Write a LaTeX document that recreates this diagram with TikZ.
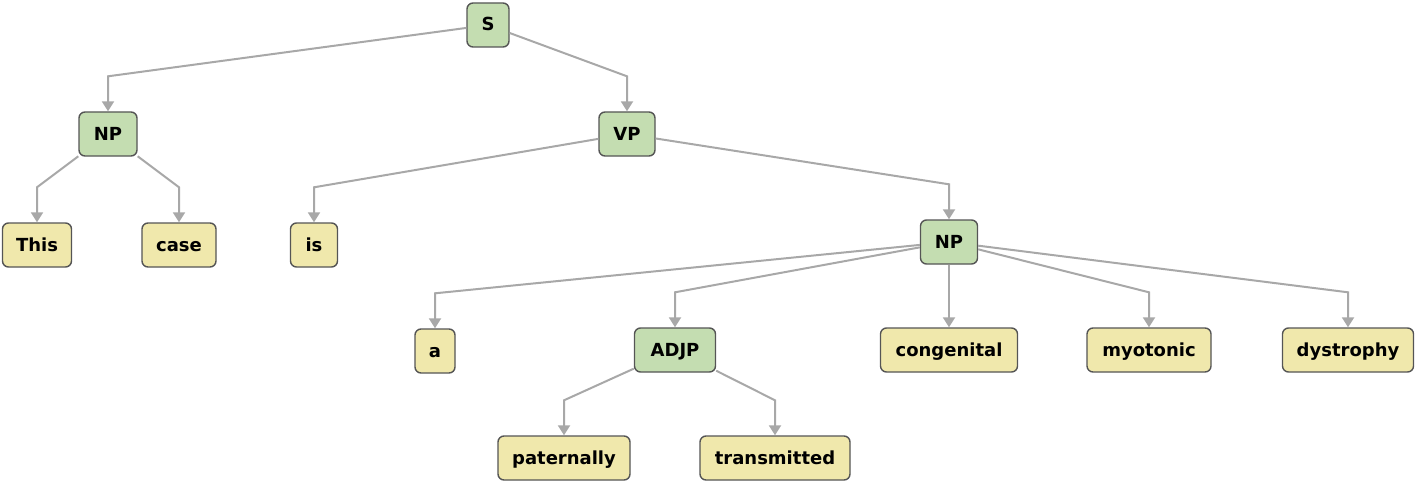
\documentclass[tikz,border=0pt]{standalone}
\usepackage{fontspec}
\setmainfont{DejaVu Sans}
\usetikzlibrary{calc,arrows.meta}
\definecolor{phfill}{HTML}{C4DDB1}
\definecolor{lffill}{HTML}{F0E8AC}
\definecolor{bord}{HTML}{555555}
\definecolor{edgec}{HTML}{A8A8A8}
\tikzset{
  box/.style={draw=bord, line width=1.4pt, rounded corners=6pt, minimum height=44pt,
    inner sep=0pt, text height=13pt, text depth=1pt,
    font=\fontsize{18}{20}\selectfont\bfseries, text=black},
  ph/.style={box, fill=phfill},
  lf/.style={box, fill=lffill},
  edge/.style={draw=edgec, line width=2pt, -{Triangle[length=10pt,width=12pt]}}
}
\newcommand\tedge[2]{\draw[edge] (#1) -- ($(#2.north)+(0pt,35pt)$) -- (#2.north);}
\begin{document}
\begin{tikzpicture}[x=1pt,y=-1pt]
\useasboundingbox (0,0) rectangle (1415,484);
\node[ph,minimum width=42pt] (S) at (488,25) {S};
\node[ph,minimum width=58pt] (NPa) at (108,134) {NP};
\node[ph,minimum width=56pt] (VP) at (627,134) {VP};
\node[lf,minimum width=69pt] (This) at (37,245) {This};
\node[lf,minimum width=74pt] (case) at (179,245) {case};
\node[lf,minimum width=47pt] (is) at (314,245) {is};
\node[ph,minimum width=57pt] (NPb) at (949,242) {NP};
\node[lf,minimum width=40pt] (a) at (435,351) {a};
\node[ph,minimum width=81pt] (ADJP) at (675,350) {ADJP};
\node[lf,minimum width=137pt] (congenital) at (949,350) {congenital};
\node[lf,minimum width=124pt] (myotonic) at (1149,350) {myotonic};
\node[lf,minimum width=131pt] (dystrophy) at (1348,350) {dystrophy};
\node[lf,minimum width=132pt] (paternally) at (564,458) {paternally};
\node[lf,minimum width=150pt] (transmitted) at (775,458) {transmitted};
\tedge{S}{NPa}
\tedge{S}{VP}
\tedge{NPa}{This}
\tedge{NPa}{case}
\tedge{VP}{is}
\tedge{VP}{NPb}
\tedge{NPb}{a}
\tedge{NPb}{ADJP}
\draw[edge] (NPb) -- (congenital);
\tedge{NPb}{myotonic}
\tedge{NPb}{dystrophy}
\tedge{ADJP}{paternally}
\tedge{ADJP}{transmitted}
\end{tikzpicture}
\end{document}
